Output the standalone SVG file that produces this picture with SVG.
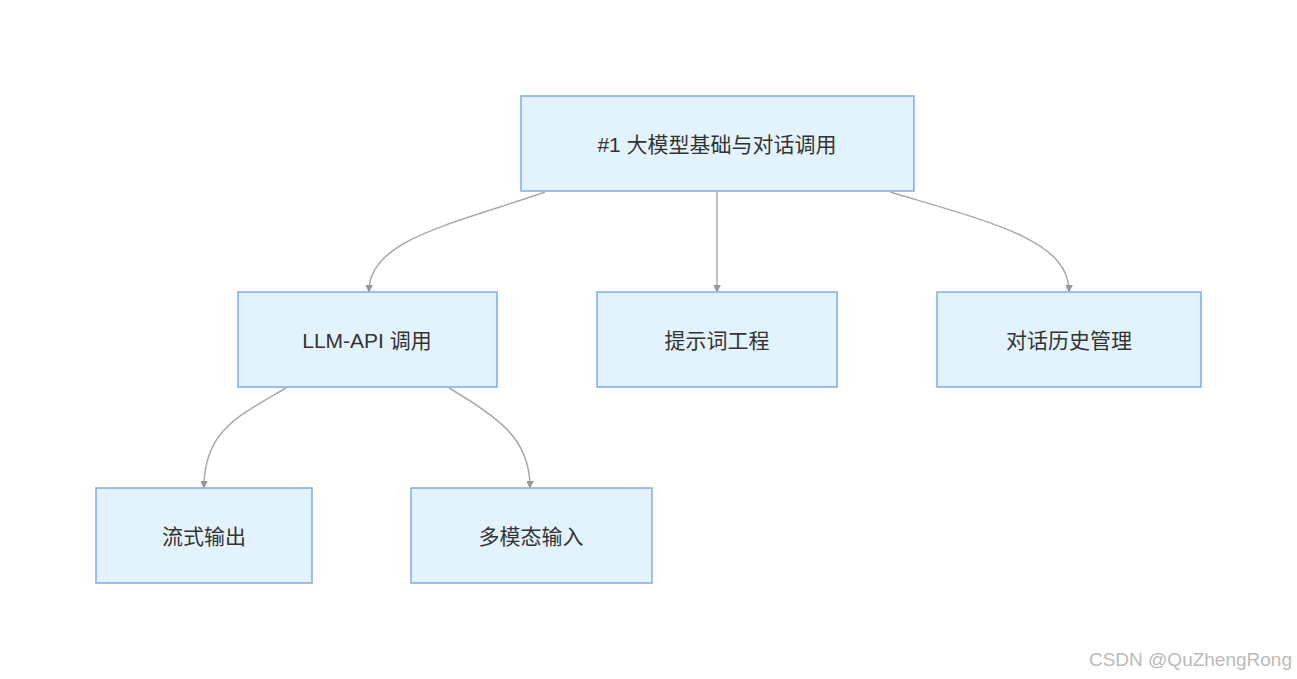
<svg xmlns="http://www.w3.org/2000/svg" width="1297" height="679" viewBox="0 0 1297 679">
<style>
.n rect{fill:#e3f3fd;stroke:#7eaaf0;stroke-width:1.5}
.n text{font-family:"Liberation Sans","Noto Sans CJK SC",sans-serif;font-size:21px;fill:#333;text-anchor:middle;dominant-baseline:central}
.e path{fill:none;stroke:#aaa;stroke-width:1.5;marker-end:url(#a)}
</style>
<defs><marker id="a" viewBox="0 0 10 10" refX="9" refY="5" markerWidth="7" markerHeight="7" orient="auto" markerUnits="userSpaceOnUse"><path d="M0,0L10,5L0,10z" fill="#999" stroke="#888"/></marker></defs>
<rect width="1297" height="679" fill="#fff"/>
<g class="e">
<path d="M545,192 C450,225 369,240 369,291" style="marker-end:url(#a)"/>
<path d="M717,192 L717,291"/>
<path d="M890,192 C990,222 1069,240 1069,291"/>
<path d="M286,388 C240,415 204,430 204,487"/>
<path d="M449,388 C500,418 530,440 530,487"/>
</g>
<defs><marker id="b"/></defs>
<g id="n1" class="n"><rect x="521" y="96" width="393" height="95"/><text x="717" y="144">#1 大模型基础与对话调用</text></g>
<g id="n2" class="n"><rect x="238" y="292" width="259" height="95"/><text x="367" y="340">LLM-API 调用</text></g>
<g id="n3" class="n"><rect x="597" y="292" width="240" height="95"/><text x="717" y="340">提示词工程</text></g>
<g id="n4" class="n"><rect x="937" y="292" width="264" height="95"/><text x="1069" y="340">对话历史管理</text></g>
<g id="n5" class="n"><rect x="96" y="488" width="216" height="95"/><text x="204" y="536">流式输出</text></g>
<g id="n6" class="n"><rect x="411" y="488" width="241" height="95"/><text x="531" y="536">多模态输入</text></g>
<text x="1292" y="666" font-family="Liberation Sans,sans-serif" font-size="19" fill="#bbb" text-anchor="end">CSDN @QuZhengRong</text>
</svg>
